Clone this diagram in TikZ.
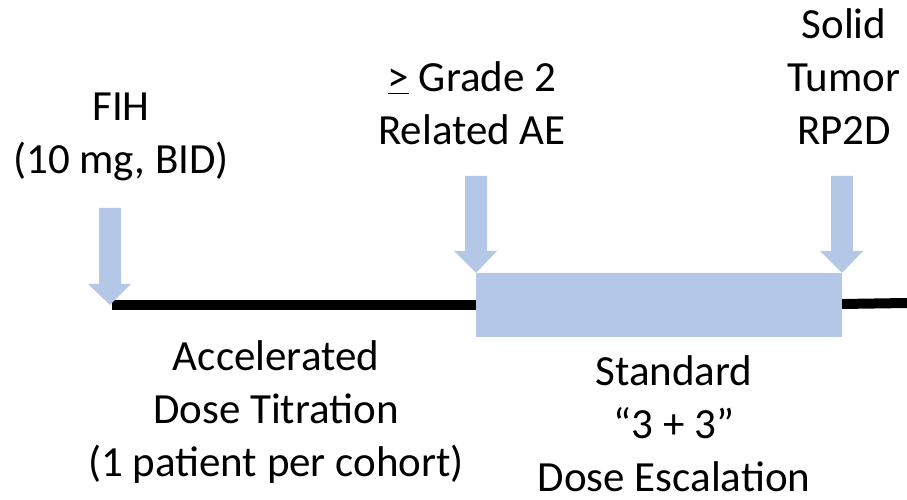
\documentclass[tikz,border=0pt]{standalone}
\usepackage{fontspec}
\setmainfont{Carlito}
\definecolor{arrowblue}{RGB}{180,199,231}
\tikzset{
  label text/.style={align=center, inner sep=0pt, anchor=base,
    font=\fontsize{43}{53}\selectfont},
  block arrow/.style={fill=arrowblue, draw=none},
}
\begin{document}
\begin{tikzpicture}[x=1pt,y=1pt]
\useasboundingbox (0,0) rectangle (907,500);
%%% timeline and the dose escalation box
\draw[line width=10pt, black] (112,195) -- (476,195);
\draw[line width=10pt, black] (842,196) -- (907,197);
\fill[arrowblue] (476,163) rectangle (842,227);
%%% block arrows pointing at the timeline
\fill[block arrow] (99,292) -- (121,292) -- (121,216) -- (131,216) -- (110,195)
  -- (88,216) -- (99,216) -- cycle;
\fill[block arrow] (465,324) -- (487,324) -- (487,249) -- (497,249) -- (476,227)
  -- (454,249) -- (465,249) -- cycle;
\fill[block arrow] (831,324) -- (853,324) -- (853,249) -- (863,249) -- (842,227)
  -- (820,249) -- (831,249) -- cycle;
%%% labels above (anchored at the baseline of their last line)
\node[label text] (fih) at (121,326) {FIH\\(10 mg, BID)};
\node[label text] (grade) at (472,355) {\underline{>} Grade 2\\Related AE};
\node[label text] (rp2d) at (844,355) {Solid\\Tumor\\RP2D};
%%% labels below
\node[label text] (accel) at (276,23)
  {Accelerated\\Dose Titration\\(1 patient per cohort)};
\node[label text] (std) at (674,8) {Standard\\“3 + 3”\\Dose Escalation};
\end{tikzpicture}
\end{document}
